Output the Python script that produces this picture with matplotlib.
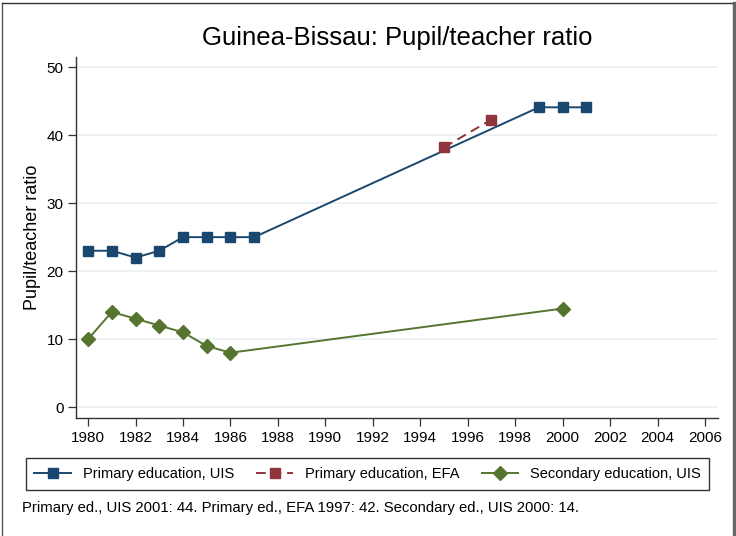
import matplotlib
matplotlib.use("Agg")
import matplotlib.pyplot as plt
from matplotlib.lines import Line2D

plt.rcParams['font.family'] = ['Liberation Sans', 'DejaVu Sans']

years_pri_uis = [1980, 1981, 1982, 1983, 1984, 1985, 1986, 1987, 1999, 2000, 2001]
pri_uis = [23, 23, 22, 23, 25, 25, 25, 25, 44.1, 44.1, 44.1]
years_pri_efa = [1995, 1997]
pri_efa = [38.2, 42.3]
years_sec_uis = [1980, 1981, 1982, 1983, 1984, 1985, 1986, 2000]
sec_uis = [10, 14, 13, 12, 11, 9, 8, 14.5]
xticks = list(range(1980, 2007, 2))
yticks = [0, 10, 20, 30, 40, 50]
title = "Guinea-Bissau: Pupil/teacher ratio"
ylabel = "Pupil/teacher ratio"
labels = ["Primary education, UIS", "Primary education, EFA", "Secondary education, UIS"]
note = "Primary ed., UIS 2001: 44. Primary ed., EFA 1997: 42. Secondary ed., UIS 2000: 14."

c_pri = "#1a476f"
c_efa = "#90353b"
c_sec = "#55752f"

W, H = 736, 536
fig = plt.figure(figsize=(W / 100, H / 100), dpi=100)
ax = fig.add_axes([76 / W, 1 - 418 / H, (718 - 76) / W, (418 - 57) / H])

ax.plot(years_pri_uis, pri_uis, color=c_pri, lw=1.4, marker='s', ms=7, zorder=3)
ax.plot(years_pri_efa, pri_efa, color=c_efa, lw=1.4, ls=(0, (5, 3)), marker='s', ms=7, zorder=4)
ax.plot(years_sec_uis, sec_uis, color=c_sec, lw=1.4, marker='D', ms=7, zorder=3)

ax.set_xlim(1979.49, 2006.55)
ax.set_ylim(-1.6, 51.5)
ax.set_xticks(xticks)
ax.set_yticks(yticks)
ax.tick_params(axis='both', labelsize=11, length=6, width=0.9, color='#333333')
ax.tick_params(axis='y', pad=3)
ax.grid(axis='y', color='#eaf0f4', lw=1.2)
ax.set_axisbelow(True)
for s in ['top', 'right']:
    ax.spines[s].set_visible(False)
for s in ['left', 'bottom']:
    ax.spines[s].set_color('#333333')
    ax.spines[s].set_linewidth(1.0)

ax.set_ylabel(ylabel, fontsize=13, labelpad=4)
fig.text(0.5 * (76 + 718) / W, 1 - 38 / H, title, ha='center', va='center', fontsize=18.5)

handles = [
    Line2D([], [], color=c_pri, lw=1.4, marker='s', ms=7),
    Line2D([], [], color=c_efa, lw=1.4, ls=(0, (5, 3)), marker='s', ms=7),
    Line2D([], [], color=c_sec, lw=1.4, marker='D', ms=7),
]
leg = fig.legend(handles, labels, ncol=3, loc='center',
                 bbox_to_anchor=((25 + 710) / 2 / W, 1 - 474 / H),
                 frameon=True, fancybox=False, edgecolor='black', fontsize=10.5,
                 handlelength=2.5, columnspacing=1.55, borderpad=0.6, handletextpad=0.8)
leg.get_frame().set_linewidth(1.0)

fig.text(22 / W, 1 - 508 / H, note, ha='left', va='center', fontsize=10.7)

# outer frame
fig.add_artist(Line2D([1.5 / W, 1.5 / W], [0, 1 - 3 / H], color='#555555', lw=1.0))
fig.add_artist(Line2D([1.5 / W, 733 / W], [1 - 3 / H, 1 - 3 / H], color='#333333', lw=1.0))
fig.add_artist(Line2D([733.5 / W, 733.5 / W], [0, 1 - 3 / H], color='#666666', lw=2.5))

fig.savefig("out.png", dpi=100, facecolor='white')
